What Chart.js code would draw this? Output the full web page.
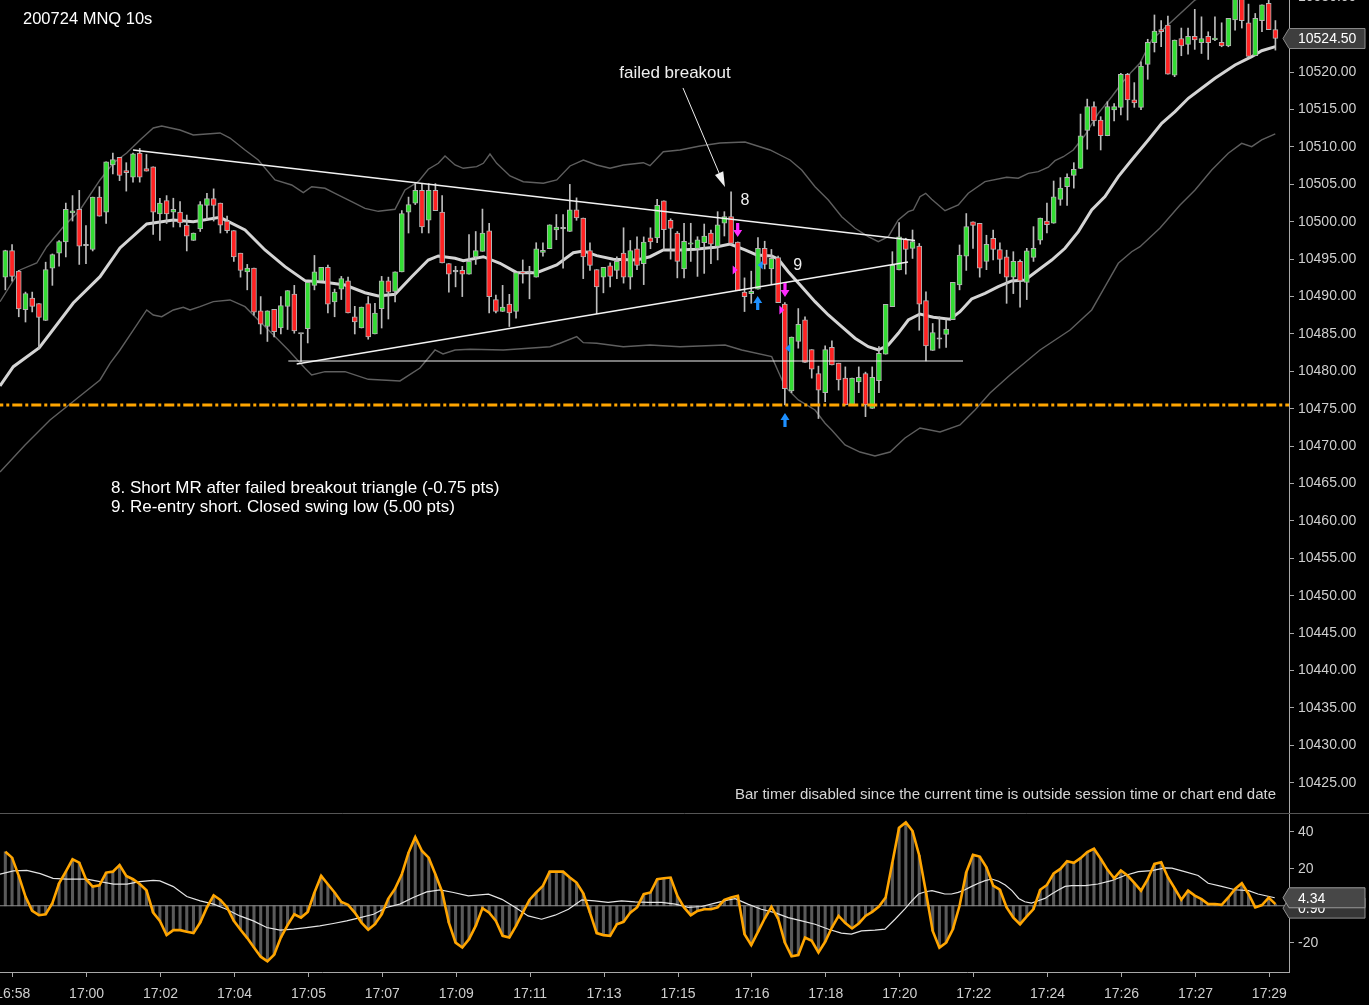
<!DOCTYPE html>
<html><head><meta charset="utf-8">
<script src="https://cdn.jsdelivr.net/npm/chart.js@4.4.1/dist/chart.umd.min.js"></script>
<style>
html,body{margin:0;padding:0;background:#000;overflow:hidden;width:1369px;height:1005px;}
#top{position:absolute;left:0;top:0;width:1369px;height:813px;}
#bot{position:absolute;left:0;top:813px;width:1369px;height:192px;}
</style></head><body>
<div id="top"><canvas id="c1"></canvas></div>
<div id="bot"><canvas id="c2"></canvas></div>
<script>
// ---------------- DATA ----------------
const chartTitle = '200724 MNQ 10s';
const opens = [10492.6,10496.15,10493.4,10488.25,10489.8,10489.05,10486.8,10493.8,10495.8,10497.3,
10501.2,10501.65,10496.8,10496.3,10503.3,10501.3,10507.6,10508.6,10506.85,10505.97,
10509.2,10507.1,10507.35,10501.05,10502.85,10501.3,10501.3,10499.55,10497.5,10499.05,
10502.2,10503.1,10502.5,10500.1,10498.82,10495.8,10493.3,10493.8,10488.1,10486.0,
10488.3,10485.8,10488.7,10490.35,10485.0,10485.7,10491.5,10492.1,10493.9,10489.3,
10491.0,10492.1,10487.3,10485.8,10489.05,10485.0,10488.4,10492.1,10490.7,10493.3,
10501.3,10502.5,10504.2,10500.2,10504.2,10501.3,10494.4,10493.3,10493.5,10493.0,
10495.3,10496.05,10498.8,10489.6,10488.0,10489.0,10488.0,10493.2,10493.2,10492.6,
10495.9,10496.4,10498.9,10499.05,10498.7,10501.6,10500.5,10496.15,10493.6,10492.6,
10494.1,10493.5,10495.8,10492.6,10496.4,10494.4,10497.85,10497.85,10502.8,10500.2,
10498.5,10493.7,10497.0,10496.4,10497.2,10498.5,10496.7,10499.8,10500.7,10497.3,
10490.6,10490.4,10491.0,10496.45,10493.7,10495.2,10489.0,10477.4,10484.0,10486.9,
10482.9,10479.7,10477.15,10483.2,10481.1,10479.1,10475.5,10478.6,10479.7,10475.05,
10478.75,10482.3,10488.65,10493.55,10497.65,10496.45,10496.75,10489.45,10482.8,10484.3,
10484.95,10486.9,10491.55,10495.4,10500.0,10499.8,10494.7,10497.8,10496.3,10495.3,
10492.6,10494.7,10491.9,10495.25,10497.55,10500.1,10499.8,10503.0,10504.7,10506.2,
10507.15,10512.2,10515.4,10513.6,10511.5,10514.95,10515.3,10519.7,10516.3,10515.3,
10521.05,10523.95,10525.7,10526.3,10519.6,10524.5,10523.7,10524.8,10523.95,10524.8,
10524.35,10524.0,10523.5,10527.0,10530.5,10526.6,10522.2,10526.9,10529.2,10525.7];
const highs = [10496.2,10496.95,10493.5,10490.6,10490.6,10489.05,10494.6,10495.7,10497.5,10502.5,
10503.5,10504.2,10499.5,10503.3,10504.7,10508.0,10509.2,10508.6,10507.9,10509.2,
10509.8,10509.0,10507.35,10503.15,10503.5,10503.15,10502.7,10500.9,10498.5,10502.7,
10503.8,10504.4,10502.5,10500.75,10498.82,10495.8,10494.3,10493.8,10490.0,10488.1,
10488.3,10490.0,10490.8,10491.5,10485.0,10491.9,10495.5,10493.9,10494.2,10491.0,
10492.7,10492.6,10488.7,10488.6,10490.0,10489.1,10492.7,10492.6,10493.3,10501.5,
10503.3,10505.1,10505.1,10505.1,10505.1,10503.5,10494.4,10494.05,10494.05,10498.3,
10498.7,10501.7,10499.8,10490.2,10491.5,10490.3,10493.2,10494.9,10494.05,10497.2,
10497.2,10499.6,10500.97,10500.97,10505.0,10503.2,10500.5,10497.2,10493.6,10493.9,
10494.5,10495.3,10499.2,10497.5,10497.98,10497.98,10499.2,10503.0,10502.8,10500.4,
10498.7,10499.8,10499.8,10498.0,10499.7,10498.9,10501.35,10501.35,10504.0,10497.3,
10492.5,10493.4,10497.9,10497.4,10496.3,10495.4,10489.2,10484.6,10488.4,10487.3,
10482.9,10480.7,10483.4,10484.1,10481.1,10480.6,10479.1,10480.6,10479.9,10480.6,
10483.3,10488.96,10496.0,10499.9,10497.8,10498.9,10497.1,10490.65,10486.4,10487.3,
10486.9,10491.9,10496.9,10501.1,10500.0,10499.8,10498.2,10498.9,10497.2,10496.2,
10496.0,10494.9,10496.45,10499.35,10500.5,10502.5,10505.45,10505.9,10506.4,10507.9,
10514.4,10516.4,10516.05,10514.05,10516.05,10515.8,10519.85,10519.85,10518.6,10521.4,
10524.4,10527.65,10526.9,10527.5,10524.3,10525.9,10525.9,10528.4,10527.4,10525.4,
10527.4,10526.6,10527.2,10531.5,10531.5,10529.1,10527.85,10529.0,10530.5,10526.9];
const lows = [10490.9,10492.05,10487.3,10486.6,10487.95,10483.0,10486.8,10491.5,10494.05,10495.3,
10500.1,10494.3,10494.4,10496.1,10500.75,10499.77,10506.4,10505.5,10504.1,10505.3,
10505.3,10506.77,10498.3,10497.5,10499.77,10499.3,10499.3,10496.1,10497.5,10498.7,
10500.3,10500.1,10498.5,10498.5,10494.7,10492.6,10490.9,10487.5,10485.0,10484.0,
10484.6,10485.0,10485.6,10485.1,10481.3,10483.8,10490.9,10492.1,10487.8,10487.3,
10489.6,10487.8,10485.0,10485.8,10484.3,10485.0,10485.8,10487.0,10489.3,10493.3,
10498.5,10502.3,10498.5,10498.5,10501.5,10494.5,10490.6,10491.3,10490.0,10493.0,
10494.3,10496.05,10487.8,10487.8,10488.0,10486.0,10487.1,10491.8,10489.7,10492.6,
10495.4,10496.4,10497.6,10493.8,10498.7,10500.2,10492.4,10493.5,10487.7,10490.5,
10491.3,10492.4,10491.8,10491.0,10493.6,10491.6,10496.4,10497.2,10496.3,10495.0,
10492.5,10492.5,10494.7,10492.7,10493.1,10494.4,10494.9,10498.1,10496.9,10490.8,
10488.0,10489.1,10491.0,10493.7,10491.6,10489.2,10475.5,10477.15,10483.1,10481.2,
10479.1,10473.7,10475.95,10480.85,10477.5,10475.5,10475.5,10477.15,10473.95,10475.05,
10477.15,10482.3,10488.65,10493.55,10493.0,10495.1,10485.5,10481.4,10482.8,10483.1,
10483.2,10486.9,10490.9,10493.5,10496.45,10492.6,10493.6,10494.9,10493.1,10489.1,
10490.4,10488.6,10489.6,10494.7,10497.0,10498.5,10499.8,10502.2,10502.2,10504.5,
10507.1,10509.7,10512.8,10509.6,10511.5,10513.5,10514.3,10513.6,10515.3,10515.0,
10519.05,10522.7,10523.4,10519.75,10519.4,10522.2,10522.4,10523.05,10522.5,10521.7,
10524.2,10523.4,10523.4,10525.6,10525.9,10522.0,10522.2,10525.4,10525.7,10522.95];
const closes = [10496.15,10492.7,10488.35,10490.4,10488.7,10487.2,10493.6,10495.6,10497.35,10501.65,
10501.45,10496.75,10496.8,10503.3,10500.75,10508.0,10508.3,10506.2,10506.55,10509.1,
10505.97,10506.77,10501.3,10502.5,10501.05,10501.65,10499.85,10498.07,10498.5,10502.3,
10503.1,10502.2,10499.55,10498.8,10495.3,10493.5,10493.8,10487.9,10486.3,10488.1,
10485.3,10488.8,10490.8,10485.4,10485.0,10491.9,10493.3,10493.9,10489.0,10490.6,
10492.4,10487.8,10486.6,10488.6,10484.6,10487.8,10492.1,10490.6,10493.3,10501.1,
10502.3,10504.2,10499.3,10504.2,10501.5,10494.5,10493.0,10493.3,10493.0,10494.7,
10496.15,10498.5,10490.0,10488.0,10488.6,10487.8,10493.2,10493.1,10493.2,10496.4,
10496.2,10499.6,10499.3,10499.05,10501.6,10500.5,10495.3,10494.15,10491.3,10493.9,
10492.7,10494.7,10492.6,10496.15,10494.15,10497.3,10497.3,10502.2,10498.96,10499.1,
10494.7,10497.4,10497.2,10497.6,10498.1,10497.0,10499.6,10500.7,10497.1,10490.8,
10490.0,10490.7,10496.45,10494.3,10495.1,10489.2,10477.7,10484.6,10486.3,10481.2,
10480.3,10477.5,10482.9,10480.85,10478.85,10475.5,10479.1,10479.2,10475.5,10479.2,
10482.4,10488.96,10494.2,10498.0,10496.3,10497.35,10489.0,10483.4,10485.2,10484.3,
10485.65,10491.9,10495.55,10499.35,10499.5,10493.8,10497.0,10496.3,10494.98,10492.6,
10494.7,10492.1,10496.1,10496.45,10500.5,10499.6,10503.35,10504.5,10505.94,10507.0,
10511.5,10515.4,10513.5,10511.5,10515.4,10515.4,10519.7,10516.3,10515.9,10520.8,
10524.0,10525.5,10525.4,10519.75,10524.3,10523.5,10524.8,10524.3,10524.5,10523.95,
10524.5,10523.5,10527.2,10530.0,10526.9,10522.1,10527.2,10529.0,10525.7,10524.5];

// moving average
const maX = [-0.79,1.19,5.06,10.11,14.09,17.06,21.04,25.0,27.97,31.95,35.67,38.64,41.62,44.59,47.57,50.55,53.52,55.5,57.99,60.47,62.94,64.43,66.92,68.15,71.13,73.61,76.1,79.07,82.05,84.52,86.01,88.0,90.47,93.95,95.93,97.91,100.4,102.63,105.6,107.84,110.07,111.81,114.04,115.03,116.51,118.51,120.49,122.47,124.46,126.44,128.42,129.91,131.39,132.88,134.37,136.11,138.09,140.57,142.06,143.8,145.78,147.76,149.75,151.74,153.72,155.71,157.69,159.67,161.66,163.64,165.62,167.61,170.08,172.08,174.06,176.04,178.03,180.01,182.99,185.47,186.96,188.98];
const maY = [10478.05,10480.63,10483.17,10489.14,10492.66,10496.5,10499.71,10500.24,10500.01,10500.6,10498.9,10496.23,10494.0,10492.13,10491.91,10491.55,10490.52,10490.08,10490.31,10492.66,10494.89,10495.43,10495.12,10494.8,10495.33,10494.45,10493.2,10493.2,10494.22,10495.87,10496.1,10495.47,10494.99,10494.89,10495.33,10496.23,10496.23,10496.32,10496.59,10497.03,10496.23,10495.56,10495.43,10494.99,10493.33,10491.32,10489.32,10487.54,10485.98,10484.43,10483.3,10482.86,10483.53,10485.09,10486.87,10487.67,10487.23,10486.97,10487.98,10489.68,10490.44,10491.32,10492.09,10492.22,10493.56,10494.89,10496.46,10498.68,10501.58,10503.36,10506.03,10508.26,10510.94,10513.17,10514.72,10516.51,10517.85,10519.18,10520.96,10522.07,10522.87,10523.41];
// upper band
const ubX = [-0.79,2.18,4.67,6.16,8.63,11.11,14.09,16.07,18.06,20.04,22.02,23.27,25.99,27.97,31.95,33.43,35.67,37.64,40.13,42.61,44.34,45.59,47.57,49.06,51.54,53.52,55.5,57.99,59.47,61.45,62.94,64.43,65.43,66.92,68.15,70.14,71.13,72.12,73.12,75.1,77.08,80.06,82.05,84.03,86.01,88.0,89.98,91.96,94.94,95.93,97.91,100.4,103.37,106.35,110.07,113.79,116.77,118.51,120.49,122.47,124.46,126.44,128.42,129.91,131.39,132.88,134.37,135.12,136.11,136.96,137.85,139.83,141.81,143.3,145.78,149.01,150.74,152.23,153.72,155.2,156.2,157.44,158.92,160.67,162.64,164.64,166.13,167.61,168.85,170.59,177.03,182.25,188.9];
const ubY = [10489.32,10493.56,10494.49,10496.67,10499.34,10501.58,10505.59,10507.86,10509.2,10510.94,10512.54,10512.81,10512.27,10511.6,10511.87,10511.2,10509.6,10508.26,10505.59,10504.92,10503.89,10504.69,10504.48,10503.81,10502.69,10501.8,10501.4,10501.67,10504.25,10505.36,10507.02,10507.82,10508.8,10507.59,10507.15,10507.37,10507.82,10509.06,10507.82,10506.12,10505.36,10505.15,10505.59,10507.46,10508.26,10507.59,10507.15,10507.59,10507.9,10507.5,10509.37,10509.6,10510.13,10510.53,10510.67,10509.6,10508.26,10506.93,10504.69,10502.91,10500.68,10499.13,10498.01,10497.34,10498.01,10500.24,10501.35,10501.58,10503.36,10503.81,10503.01,10501.48,10502.25,10503.81,10505.36,10505.95,10505.82,10506.48,10506.7,10507.29,10508.17,10508.7,10509.6,10511.6,10514.5,10516.72,10518.52,10520.07,10521.23,10524.3,10529.65,10531.66,10533.0];
// lower band
const lbX = [-0.79,2.93,6.65,10.37,14.09,15.58,17.06,19.04,21.04,22.02,23.27,25.0,26.48,27.48,28.97,30.95,33.43,35.67,37.64,39.64,42.11,44.59,45.59,47.57,50.55,54.01,58.73,61.7,63.94,65.13,66.92,69.15,74.1,81.05,82.54,85.03,86.01,88.0,91.96,95.93,100.4,107.1,109.58,114.04,116.02,118.0,120.49,121.98,122.97,124.95,127.18,129.41,131.65,133.88,136.11,139.09,142.06,144.29,146.53,149.51,153.97,158.44,161.66,163.64,165.62,167.61,168.85,171.83,174.81,177.04,179.52,181.99,183.98,185.47,186.96,188.98];
const lbY = [10466.55,10470.16,10473.5,10476.18,10478.85,10481.08,10482.86,10485.53,10488.21,10487.54,10487.31,10488.21,10488.57,10488.21,10488.65,10489.32,10489.55,10488.65,10486.87,10485.09,10482.86,10480.41,10479.52,10479.96,10479.96,10478.94,10478.72,10480.45,10482.86,10482.33,10482.86,10482.95,10482.86,10483.3,10483.76,10484.64,10483.84,10483.76,10483.3,10483.53,10483.3,10483.53,10482.86,10481.97,10477.95,10476.18,10474.84,10473.06,10472.17,10470.16,10469.22,10468.69,10469.22,10471.1,10472.43,10471.9,10472.83,10474.84,10477.11,10479.52,10482.86,10485.53,10488.21,10491.32,10494.45,10496.0,10496.67,10499.17,10502.25,10504.25,10506.93,10509.16,10510.49,10510.04,10510.94,10511.74];

// drawn trend lines (start / end in bar index and price)
const trendX1 = [19.0, 43.36, 42.11];
const trendY1 = [10509.6, 10480.99, 10481.39];
const trendX2 = [135.37, 134.33, 142.51];
const trendY2 = [10497.5, 10494.63, 10481.39];
const levelPrice = 10475.5;

// trade markers
const arrowI = [108.98, 116.02, 111.96, 116.02];
const arrowP = [10497.97, 10489.95, 10490.08, 10474.44];
const arrowDir = ['down', 'down', 'up', 'up'];
const triI = [108.58, 115.53, 112.37, 116.47];
const triP = [10493.56, 10488.21, 10494.22, 10483.09];
const triDir = ['right', 'right', 'left', 'left'];
const tradeLabels = ['8', '9'];
const tradeLabelI = [110.07, 117.9];
const tradeLabelP = [10502.83, 10494.13];
const calloutText = 'failed breakout';
const calloutI = [99.65, 100.84, 107.09];
const calloutP = [10519.87, 10517.89, 10504.66];
const notes = ['8. Short MR after failed breakout triangle (-0.75 pts)', '9. Re-entry short. Closed swing low (5.00 pts)'];
const timerNote = 'Bar timer disabled since the current time is outside session time or chart end date';

// price axis ticks
const priceTicks = [10425,10430,10435,10440,10445,10450,10455,10460,10465,10470,10475,10480,10485,10490,10495,10500,10505,10510,10515,10520,10525];

// oscillator
const osc = [29.3,26.1,16.2,5.0,-2.8,-5.1,-4.6,1.4,12.2,18.5,
25.2,23.4,14.4,10.4,11.1,18.0,18.5,22.1,16.2,14.4,
11.8,8.4,-3.7,-8.2,-15.9,-13.2,-13.2,-14.1,-14.8,-9.1,
-0.9,5.7,3.2,-0.9,-8.2,-13.0,-17.5,-22.6,-27.6,-30.1,
-26.5,-17.2,-10.5,-4.6,-6.4,-3.3,7.2,16.2,11.7,7.2,
2.1,0.5,-3.7,-9.1,-13.0,-10.0,-4.6,3.9,9.3,17.1,
28.8,37.2,29.7,26.1,17.1,7.5,-9.1,-20.0,-22.6,-18.1,
-10.9,-1.3,-3.7,-8.2,-16.3,-17.2,-10.9,-3.7,3.2,7.2,
10.8,18.5,18.5,18.5,15.3,12.6,6.8,-3.7,-14.8,-15.9,
-16.3,-10.0,-8.7,-3.7,-0.9,6.3,7.2,14.4,14.9,15.3,
5.4,-0.9,-5.1,-2.8,-1.9,-1.9,-0.9,3.2,4.5,5.4,
-15.4,-21.3,-14.1,-6.9,-0.6,-6.9,-19.9,-27.4,-26.7,-17.2,
-19.0,-25.3,-19.5,-11.8,-5.5,-9.4,-12.3,-9.6,-5.5,-3.3,
-0.4,4.5,23.4,42.3,45.2,40.5,27.3,7.3,-13.6,-22.7,
-20.0,-12.7,0,18.2,27.6,26.7,20.9,10.9,8.7,-0.9,
-6.4,-10.0,-5.8,-1.8,8.7,11.3,17.6,20.0,24.2,23.3,
25.8,29.1,30.9,25.5,19.6,14.9,19.1,16.4,12.4,8.2,
14.5,22.7,23.6,15.5,9.5,3.3,8.2,5.5,3.6,0.9,
0.9,0.5,4.5,9.1,12.2,6.4,-0.9,0.4,4.4,0.9];
const sigX = [-0.8,1.2,3.2,5.2,7.1,9.1,12.1,14.1,16.1,18.1,20,22,23,25,27,29,31,32.9,34.9,36.9,38.9,40.9,42.9,44.8,46.8,48.8,50.8,52.8,54.8,56.7,58.7,60.7,62.7,64.7,66.7,68.9,71.9,73.9,75.9,77.8,79.8,81.8,83.8,85.8,87.7,89.7,91.7,93.7,95.7,97.7,99.7,101.6,103.6,105.6,107.6,108.6,110.5,112.5,114.5,116.5,118.5,120.5,122.5,124.4,125.9,127.4,129.4,130.9,132.4,133.9,134.9,135.9,136.9,137.9,138.9,139.8,140.8,141.8,142.8,143.8,144.8,145.8,146.8,147.8,148.8,149.8,150.8,151.7,152.7,153.7,154.7,155.7,156.7,157.7,158.7,160.7,162.6,164.6,166.6,168.6,170.6,172.6,173.6,175.5,177.5,179,181,183,185,186.4,188.9];
const sigY = [17.1,18.9,19.2,17.4,14.9,14.4,14.4,13.1,11.7,11.7,13.1,13.8,13.5,10.4,5.0,2.7,0.9,-1.9,-5.5,-8.2,-11.8,-13.2,-12.7,-11.8,-10.9,-9.6,-8.2,-6.4,-4.6,-0.9,0.9,4.5,7.5,8.6,7.2,5.4,6.3,3.5,-0.9,-5.5,-7.3,-5.1,-1.9,3.2,2.7,1.8,2.7,2.1,1.8,1.8,0.9,-0.9,-0.4,1.4,3.2,3.9,0.9,-1.9,-3.7,-6.4,-8.2,-10.0,-12.7,-14.8,-15.4,-13.6,-13.2,-12.7,-7.3,-1.5,2.7,6.4,7.6,8.2,7.3,6.4,6.4,7.3,8.7,10.5,12.2,13.6,14.5,13.3,11.3,8.2,4.0,2.2,1.5,2.7,4.0,6.4,8.5,10.5,10.9,10.9,11.8,13.6,16.4,18.5,19.1,20.5,20.4,18.5,16.4,12.2,10.5,8.7,8.2,6.4,4.34];
const oscTicks = [40, 20, -20];
const timeLabels = ['16:58','17:00','17:02','17:04','17:05','17:07','17:09','17:11','17:13','17:15','17:16','17:18','17:20','17:22','17:24','17:26','17:27','17:29'];
const timePos = [1.1,12.1,23.1,34.1,45.1,56.1,67.1,78.1,89.1,100.1,111.1,122.1,133.1,144.1,155.1,166.1,177.1,188.1];

// ---------------- STYLE / LAYOUT ----------------
const FONT = '"Liberation Sans", Arial, sans-serif';
const AXIS_W = 80;
const BAR_PX = 6.72, FIRST_PX = 5.33;
const xMin = -FIRST_PX / BAR_PX;
const xMax = xMin + (1369 - AXIS_W) / BAR_PX;
const GREEN = '#33dd33', RED = '#ff2222', GRAYC = '#bcbcbc';
const zip = (xs, ys) => xs.map((x, k) => ({x: x, y: ys[k]}));
const idx = opens.map((_, i) => i);
const bodyColor = i => closes[i] > opens[i] ? GREEN : (closes[i] < opens[i] ? RED : GRAYC);
const fitV = s => { s.width = AXIS_W; s.paddingTop = 0; s.paddingBottom = 0; s.paddingLeft = 0; s.paddingRight = 0; };

function drawTag(ctx, yc, text, fill, stroke) {
  const tip = 1283, xl = 1289, xr = 1365, h = 20;
  ctx.beginPath();
  ctx.moveTo(tip, yc); ctx.lineTo(xl, yc - h / 2); ctx.lineTo(xr, yc - h / 2);
  ctx.lineTo(xr, yc + h / 2); ctx.lineTo(xl, yc + h / 2); ctx.closePath();
  ctx.fillStyle = fill; ctx.fill();
  ctx.strokeStyle = stroke; ctx.lineWidth = 1; ctx.stroke();
  ctx.fillStyle = '#ffffff'; ctx.font = '14px ' + FONT;
  ctx.textAlign = 'left'; ctx.textBaseline = 'middle';
  ctx.fillText(text, 1298, yc + 1);
}

const overlayTop = {
  id: 'overlayTop',
  afterDatasetsDraw(chart) {
    const {ctx, scales: {x, y}} = chart;
    ctx.save();
    arrowI.forEach((ai, k) => {
      const px = x.getPixelForValue(ai), py = y.getPixelForValue(arrowP[k]);
      const s = arrowDir[k] === 'down' ? -1 : 1;
      ctx.fillStyle = arrowDir[k] === 'down' ? '#ff2bff' : '#1e90ff';
      ctx.beginPath();
      ctx.moveTo(px, py);
      ctx.lineTo(px - 4.5, py + s * 7);
      ctx.lineTo(px - 1.6, py + s * 7);
      ctx.lineTo(px - 1.6, py + s * 14);
      ctx.lineTo(px + 1.6, py + s * 14);
      ctx.lineTo(px + 1.6, py + s * 7);
      ctx.lineTo(px + 4.5, py + s * 7);
      ctx.closePath(); ctx.fill();
    });
    triI.forEach((ti, k) => {
      const px = x.getPixelForValue(ti), py = y.getPixelForValue(triP[k]);
      const s = triDir[k] === 'right' ? 1 : -1;
      ctx.fillStyle = triDir[k] === 'right' ? '#ff2bff' : '#1e90ff';
      ctx.beginPath();
      ctx.moveTo(px - s * 2.3, py - 4.5);
      ctx.lineTo(px + s * 2.7, py);
      ctx.lineTo(px - s * 2.3, py + 4.5);
      ctx.closePath(); ctx.fill();
    });
    ctx.font = '16px ' + FONT; ctx.fillStyle = '#f0f0f0';
    ctx.textAlign = 'center'; ctx.textBaseline = 'middle';
    tradeLabels.forEach((t, k) => ctx.fillText(t, x.getPixelForValue(tradeLabelI[k]), y.getPixelForValue(tradeLabelP[k])));
    ctx.font = '17px ' + FONT;
    ctx.fillText(calloutText, x.getPixelForValue(calloutI[0]), y.getPixelForValue(calloutP[0]));
    const x1 = x.getPixelForValue(calloutI[1]), y1 = y.getPixelForValue(calloutP[1]);
    const x2 = x.getPixelForValue(calloutI[2]), y2 = y.getPixelForValue(calloutP[2]);
    const ang = Math.atan2(y2 - y1, x2 - x1);
    ctx.strokeStyle = '#f0f0f0'; ctx.lineWidth = 1;
    ctx.beginPath(); ctx.moveTo(x1, y1); ctx.lineTo(x2 - 10 * Math.cos(ang), y2 - 10 * Math.sin(ang)); ctx.stroke();
    ctx.beginPath();
    ctx.moveTo(x2, y2);
    ctx.lineTo(x2 - 15 * Math.cos(ang) + 4.5 * Math.sin(ang), y2 - 15 * Math.sin(ang) - 4.5 * Math.cos(ang));
    ctx.lineTo(x2 - 15 * Math.cos(ang) - 4.5 * Math.sin(ang), y2 - 15 * Math.sin(ang) + 4.5 * Math.cos(ang));
    ctx.closePath(); ctx.fillStyle = '#f0f0f0'; ctx.fill();
    ctx.restore();
  },
  afterDraw(chart) {
    const {ctx, scales: {y}} = chart;
    ctx.save();
    ctx.font = '16.5px ' + FONT; ctx.fillStyle = '#ffffff';
    ctx.textAlign = 'left'; ctx.textBaseline = 'middle';
    ctx.fillText(chartTitle, 23, 19);
    ctx.font = '17px ' + FONT;
    ctx.fillText(notes[0], 111, 488);
    ctx.fillText(notes[1], 111, 507);
    ctx.font = '15px ' + FONT; ctx.fillStyle = '#d6d6d6'; ctx.textAlign = 'right';
    ctx.fillText(timerNote, 1276, 795);
    ctx.font = '14px ' + FONT; ctx.fillStyle = '#cfcfcf'; ctx.textAlign = 'left';
    const topTick = priceTicks[priceTicks.length - 1] + 5;
    ctx.fillText(topTick.toFixed(2), 1298, y.getPixelForValue(topTick));
    const last = closes[closes.length - 1];
    drawTag(ctx, y.getPixelForValue(last), last.toFixed(2), '#3e3e3e', '#8a8a8a');
    ctx.restore();
  }
};

new Chart(document.getElementById('c1'), {
  type: 'bar',
  data: {
    datasets: [
      {type: 'line', data: zip(ubX, ubY), borderColor: '#5f5f5f', borderWidth: 1.4, pointRadius: 0, order: 6},
      {type: 'line', data: zip(lbX, lbY), borderColor: '#5f5f5f', borderWidth: 1.4, pointRadius: 0, order: 6},
      {type: 'line', data: zip(maX, maY), borderColor: '#d4d4d4', borderWidth: 3, pointRadius: 0, order: 5},
      {type: 'bar', data: idx.map(i => ({x: i, y: [lows[i], highs[i]]})), backgroundColor: GRAYC,
        barThickness: 1, grouped: false, order: 4, minBarLength: 1},
      {type: 'bar', data: idx.map(i => ({x: i, y: [opens[i], closes[i]]})),
        backgroundColor: c => bodyColor(c.dataIndex), borderColor: '#b4b4b4', borderWidth: 1,
        borderSkipped: false, barThickness: 5, grouped: false, order: 3, minBarLength: 1.5},
      ...trendX1.map((tx, k) => ({type: 'line', data: [{x: tx, y: trendY1[k]}, {x: trendX2[k], y: trendY2[k]}],
        borderColor: '#f2f2f2', borderWidth: k === 2 ? 1.2 : 1.6, pointRadius: 0, order: 2})),
      {type: 'line', data: [{x: xMin - 1, y: levelPrice}, {x: xMax + 1, y: levelPrice}], borderColor: '#ffa500',
        borderWidth: 3, borderDash: [10, 3, 3, 3], pointRadius: 0, order: 1}
    ]
  },
  options: {
    animation: false, responsive: true, maintainAspectRatio: false, events: [],
    layout: {padding: 0, autoPadding: false},
    plugins: {legend: {display: false}, tooltip: {enabled: false}},
    scales: {
      x: {type: 'linear', display: false, min: xMin, max: xMax, offset: false, grid: {offset: false}},
      y: {type: 'linear', position: 'right', min: 10420.96, max: 10529.65,
        afterBuildTicks: s => { s.ticks = priceTicks.map(v => ({value: v})); },
        afterFit: fitV,
        ticks: {color: '#cfcfcf', font: {family: FONT, size: 14}, padding: 4, callback: v => Number(v).toFixed(2)},
        grid: {drawOnChartArea: false, drawTicks: true, tickLength: 5, color: '#a8a8a8'},
        border: {display: true, color: '#a8a8a8'}
      }
    }
  },
  plugins: [overlayTop]
});

const overlayBot = {
  id: 'overlayBot',
  afterDraw(chart) {
    const {ctx, scales: {y}} = chart;
    ctx.save();
    ctx.strokeStyle = '#555555'; ctx.lineWidth = 1;
    ctx.beginPath(); ctx.moveTo(0, 0.5); ctx.lineTo(1369, 0.5); ctx.stroke();
    const lastOsc = osc[osc.length - 1], lastSig = sigY[sigY.length - 1];
    drawTag(ctx, y.getPixelForValue(lastOsc) + 4, lastOsc.toFixed(2), '#363636', '#8f8f8f');
    drawTag(ctx, y.getPixelForValue(lastSig), lastSig.toFixed(2), '#474747', '#9a9a9a');
    ctx.restore();
  }
};

new Chart(document.getElementById('c2'), {
  type: 'bar',
  data: {
    datasets: [
      {type: 'bar', data: osc.map((v, i) => ({x: i, y: v})), backgroundColor: '#5a5a5a', barThickness: 2.4, grouped: false, order: 4},
      {type: 'line', data: [{x: xMin - 1, y: 0}, {x: xMax + 1, y: 0}], borderColor: '#8e8e8e', borderWidth: 1, pointRadius: 0, order: 3},
      {type: 'line', data: zip(sigX, sigY), borderColor: '#e4e4e4', borderWidth: 1.2, pointRadius: 0, order: 2},
      {type: 'line', data: osc.map((v, i) => ({x: i, y: v})), borderColor: '#ffa500', borderWidth: 2.6, pointRadius: 0, order: 1}
    ]
  },
  options: {
    animation: false, responsive: true, maintainAspectRatio: false, events: [],
    layout: {padding: 0, autoPadding: false},
    plugins: {legend: {display: false}, tooltip: {enabled: false}},
    scales: {
      x: {type: 'linear', position: 'bottom', min: xMin, max: xMax, offset: false,
        afterBuildTicks: s => { s.ticks = timePos.map(v => ({value: v})); },
        afterFit: s => { s.height = 33; s.paddingLeft = 0; s.paddingRight = 0; s.paddingTop = 0; s.paddingBottom = 0; },
        ticks: {color: '#cfcfcf', font: {family: FONT, size: 14}, padding: 9, autoSkip: false, maxRotation: 0, minRotation: 0,
          callback: (v, k) => timeLabels[k]},
        grid: {drawOnChartArea: false, drawTicks: true, tickLength: 5, color: '#a8a8a8', offset: false},
        border: {display: true, color: '#a8a8a8'}
      },
      y: {type: 'linear', position: 'right', min: -35.9, max: 50.3,
        afterBuildTicks: s => { s.ticks = oscTicks.map(v => ({value: v})); },
        afterFit: fitV,
        ticks: {color: '#cfcfcf', font: {family: FONT, size: 14}, padding: 4},
        grid: {drawOnChartArea: false, drawTicks: true, tickLength: 5, color: '#a8a8a8'},
        border: {display: true, color: '#a8a8a8'}
      }
    }
  },
  plugins: [overlayBot]
});
</script></body></html>
